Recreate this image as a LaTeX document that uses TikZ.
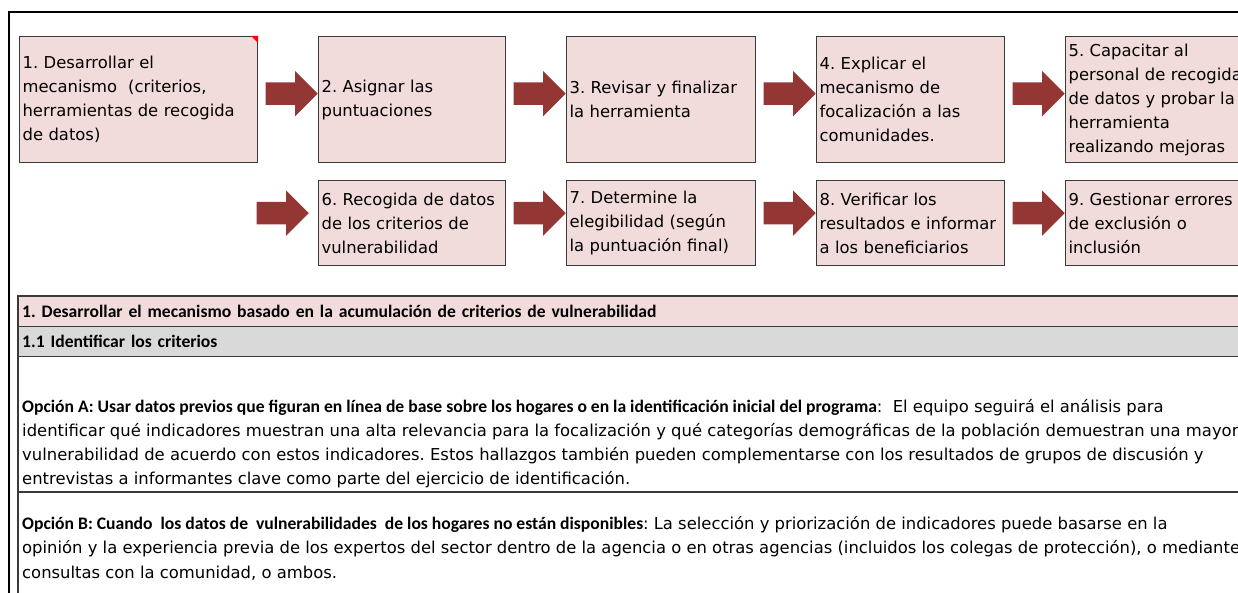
\documentclass[tikz,border=0pt]{standalone}
\usepackage{fontspec}
\setmainfont{DejaVu Sans}
\newfontfamily\carlito{Carlito}
\usepackage{tikz}
\usetikzlibrary{shapes.arrows}
\usepackage{xcolor}
\definecolor{rosa}{HTML}{F2DCDB}
\definecolor{gris}{HTML}{D9D9D9}
\definecolor{granate}{HTML}{943634}
\definecolor{borde}{HTML}{3A3A3A}
\frenchspacing

\begin{document}
\begin{tikzpicture}[x=1pt,y=-1pt]
\tikzset{
    paso/.style={%
        draw=borde, line width=1.2pt,
        fill=rosa,
        rectangle,
        anchor=north west,
        align=left,
        inner xsep=3pt, inner ysep=0pt,
        text width=#1,
        font=\fontsize{16.4}{24}\selectfont
        },
    flecha/.style={%
        single arrow, fill=granate,
        inner xsep=0pt, inner ysep=11pt,
        single arrow head extend=11.5pt,
        minimum height=52pt,
        anchor=tip
        },
    fila/.style={%
        rectangle, anchor=north west,
        minimum width=1230pt, minimum height=30pt,
        text width=1222pt, align=left,
        inner xsep=4pt, inner ysep=0pt,
        font=\carlito\bfseries\fontsize{17.6}{20}\selectfont
        },
    linea/.style={draw=borde, line width=1.3pt},
    texto/.style={anchor=base west, inner sep=0pt,
        font=\fontsize{16.4}{24}\selectfont},
}
\useasboundingbox (0,0) rectangle (1238,593);
\clip (0,0) rectangle (1238,593);
%%%MARCO
\draw[black, line width=2.2pt] (9,600) -- (9,12) -- (1250,12);
%%%PASOS
\node[paso=232pt, minimum height=126pt] (b1) at (19,36) {1. Desarrollar el\\ mecanismo~ (criterios,\\ herramientas de recogida\\ de datos)};
\node[paso=181pt, minimum height=126pt] (b2) at (318,36) {2. Asignar las\\ puntuaciones};
\node[paso=183pt, minimum height=126pt] (b3) at (566,36) {3. Revisar y finalizar\\ la herramienta};
\node[paso=182pt, minimum height=126pt] (b4) at (816,36) {4. Explicar el\\ mecanismo de\\ focalización a las\\ comunidades.};
\node[paso=182pt, minimum height=126pt] (b5) at (1065,36) {5. Capacitar al\\ personal de recogida\\ de datos y probar la\\ herramienta\\ realizando mejoras};
\node[paso=181pt, minimum height=85pt] (b6) at (318,180) {6. Recogida de datos\\ de los criterios de\\ vulnerabilidad};
\node[paso=183pt, minimum height=85pt] (b7) at (566,180) {7. Determine la\\ elegibilidad (según\\ la puntuación final)};
\node[paso=182pt, minimum height=85pt] (b8) at (816,180) {8. Verificar los\\ resultados e informar\\ a los beneficiarios};
\node[paso=182pt, minimum height=85pt] (b9) at (1065,180) {9. Gestionar errores\\ de exclusión o\\ inclusión};
\fill[red] (b1.north east) -- ++(-7,0) -- ++(7,7) -- cycle;
%%%FLECHAS
\node[flecha] (f1) at ([yshift=6pt]b2.west) {};
\node[flecha] (f2) at ([yshift=6pt]b3.west) {};
\node[flecha] (f3) at ([yshift=6pt]b4.west) {};
\node[flecha] (f4) at ([yshift=6pt]b5.west) {};
\node[flecha] (f5) at ([xshift=-9pt,yshift=10pt]b6.west) {};
\node[flecha] (f6) at ([yshift=10pt]b7.west) {};
\node[flecha] (f7) at ([yshift=10pt]b8.west) {};
\node[flecha] (f8) at ([yshift=10pt]b9.west) {};
%%%TABLA
\node[fila, fill=rosa] (h1) at (18,296) {1. Desarrollar el mecanismo basado en la acumulación de criterios de vulnerabilidad};
\node[fila, fill=gris] (h2) at (18,326) {1.1 Identificar los criterios};
\draw[linea] (h1.north east) -- (h1.north west) -- (18,600);
\draw[linea] (h1.south west) -- (h1.south east);
\draw[linea] (h2.south west) -- (h2.south east);
\draw[linea] (18,492) -- (1240,492);
\node[texto] (a1) at (22,412) {{\carlito\bfseries\fontsize{17.6}{24}\selectfont Opción A: Usar datos previos que figuran en línea de base sobre los hogares o en la identificación inicial del programa}:~ El equipo seguirá el análisis para};
\node[texto] (a2) at (22,436) {identificar qué indicadores muestran una alta relevancia para la focalización y qué categorías demográficas de la población demuestran una mayor};
\node[texto] (a3) at (22,460) {vulnerabilidad de acuerdo con estos indicadores. Estos hallazgos también pueden complementarse con los resultados de grupos de discusión y};
\node[texto] (a4) at (22,484) {entrevistas a informantes clave como parte del ejercicio de identificación.};
\node[texto] (o1) at (22,529) {{\carlito\bfseries\fontsize{17.6}{24}\selectfont Opción B: Cuando~ los datos de~ vulnerabilidades~ de los hogares no están disponibles}: La selección y priorización de indicadores puede basarse en la};
\node[texto] (o2) at (22,553) {opinión y la experiencia previa de los expertos del sector dentro de la agencia o en otras agencias (incluidos los colegas de protección), o mediante};
\node[texto] (o3) at (22,578) {consultas con la comunidad, o ambos.};
\end{tikzpicture}
\end{document}
